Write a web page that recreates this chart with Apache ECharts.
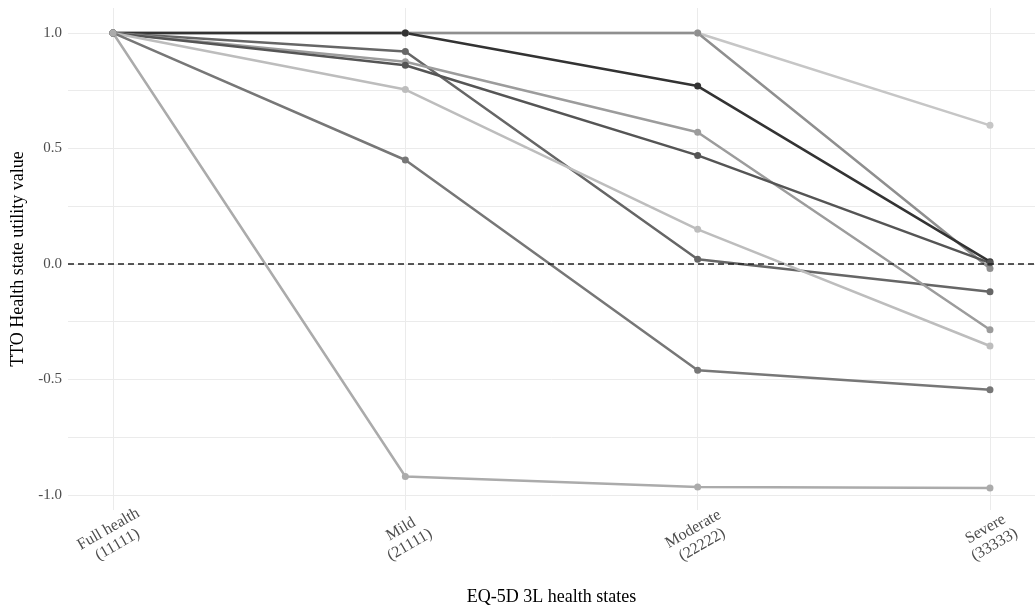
<!DOCTYPE html>
<html>
<head>
<meta charset="utf-8">
<script src="https://cdn.jsdelivr.net/npm/echarts@6/dist/echarts.min.js"></script>
<style>
  html, body { margin: 0; padding: 0; background: #fff; }
  #main { width: 1035px; height: 608px; }
</style>
</head>
<body>
<div id="main"></div>
<script>
// health states on the x axis
var categories = ['Full health\n(11111)', 'Mild\n(21111)', 'Moderate\n(22222)', 'Severe\n(33333)'];
var yTicks = [-1, -0.5, 0, 0.5, 1];
var yGrid = [-1, -0.75, -0.5, -0.25, 0, 0.25, 0.5, 0.75, 1];

// TTO values per respondent, one per health state
var r1 = [1, 1, 1, 0.6];
var r2 = [1, 1, 1, -0.02];
var r3 = [1, 1, 0.77, 0.01];
var r4 = [1, 0.92, 0.02, -0.12];
var r5 = [1, 0.875, 0.57, -0.285];
var r6 = [1, 0.86, 0.47, 0.005];
var r7 = [1, 0.755, 0.15, -0.355];
var r8 = [1, 0.45, -0.46, -0.545];
var r9 = [1, -0.92, -0.965, -0.97];

var respondents = [r1, r2, r3, r4, r5, r6, r7, r8, r9];
var greys = ['#c6c6c6', '#8f8f8f', '#333333', '#666666', '#9c9c9c', '#555555', '#bdbdbd', '#777777', '#ababab'];

var font = '"Liberation Serif", "DejaVu Serif", serif';

var series = respondents.map(function (vals, i) {
  return {
    type: 'line',
    data: vals.map(function (v, j) { return [j, v]; }),
    symbol: 'circle',
    symbolSize: 7,
    lineStyle: { width: 2.5, color: greys[i] },
    itemStyle: { color: greys[i] },
    z: 3
  };
});

// dashed reference line at 0
series.push({
  type: 'line',
  data: [],
  markLine: {
    silent: true,
    symbol: 'none',
    label: { show: false },
    lineStyle: { type: [6, 4], color: '#222', width: 1.5 },
    data: [{ yAxis: 0 }]
  },
  z: 4
});

var chart = echarts.init(document.getElementById('main'));
var option = {
  animation: false,
  backgroundColor: '#fff',
  textStyle: { fontFamily: font },
  grid: { left: 68, right: 0, top: 8, bottom: 98, outerBoundsMode: 'none' },
  xAxis: {
    type: 'value',
    min: -0.154,
    max: 3.154,
    name: 'EQ-5D 3L health states',
    nameLocation: 'middle',
    nameGap: 78,
    nameTextStyle: { fontFamily: font, fontSize: 18, color: '#000' },
    axisLine: { show: false },
    axisTick: { show: false, customValues: [0, 1, 2, 3] },
    axisLabel: {
      customValues: [0, 1, 2, 3],
      rotate: 30,
      align: 'center',
      verticalAlign: 'middle',
      margin: 27,
      lineHeight: 18,
      fontFamily: font,
      fontSize: 16,
      color: '#4d4d4d',
      formatter: function (v) { return categories[Math.round(v)]; }
    },
    splitLine: { show: true, lineStyle: { color: '#ebebeb', width: 1 } }
  },
  yAxis: {
    type: 'value',
    min: -1.065,
    max: 1.108,
    name: 'TTO Health state utility value',
    nameLocation: 'middle',
    nameGap: 40,
    nameRotate: 90,
    nameTextStyle: { fontFamily: font, fontSize: 18, color: '#000' },
    axisLine: { show: false },
    axisTick: { show: false, customValues: yGrid },
    axisLabel: {
      customValues: yTicks,
      margin: 6,
      fontFamily: font,
      fontSize: 15,
      color: '#4d4d4d',
      formatter: function (v) { return v.toFixed(1); }
    },
    splitLine: { show: true, lineStyle: { color: '#ebebeb', width: 1 } }
  },
  series: series
};
chart.setOption(option);
</script>
</body>
</html>
